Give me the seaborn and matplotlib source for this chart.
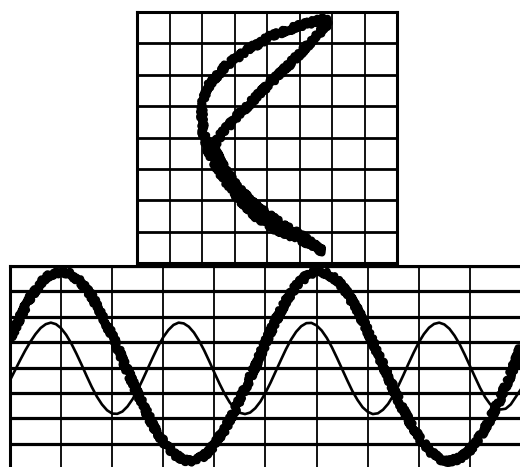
import numpy as np
import pandas as pd
import seaborn as sns
import matplotlib.pyplot as plt

# ------------------------------------------------------------
# Data (grid divisions)
# ------------------------------------------------------------
# X-Y mode trace (top screen), 0..8 divisions each way, closed loop
liss_x = [5.80, 5.40, 4.91, 4.09, 3.38, 2.76, 2.25, 2.04, 1.99, 2.04, 2.19,
          2.45, 2.76, 3.17, 3.68, 4.30, 4.91, 5.53, 5.72, 5.11, 4.40, 3.68,
          3.07, 2.65, 2.34, 2.61, 3.07, 3.57, 4.09, 4.61, 5.11, 5.50, 5.85,
          5.80]
liss_y = [7.78, 7.68, 7.53, 7.21, 6.78, 6.31, 5.73, 5.19, 4.66, 4.14, 3.60,
          3.07, 2.55, 2.01, 1.47, 1.05, 0.80, 0.52, 0.36, 0.84, 1.27, 1.79,
          2.43, 3.07, 3.70, 4.14, 4.66, 5.19, 5.73, 6.25, 6.78, 7.22, 7.60,
          7.78]

# time base trace (bottom screen), 10 divisions wide, -4..4 tall
t_slow = [i / 5 for i in range(51)]
v_slow = [1.15, 2.00, 2.78, 3.34, 3.67, 3.79, 3.67, 3.34, 2.80, 2.09,
          1.25, 0.34, -0.59, -1.48, -2.27, -2.92, -3.39, -3.65, -3.67, -3.47,
          -3.05, -2.44, -1.68, -0.81, 0.05, 0.98, 1.85, 2.63, 3.22, 3.61,
          3.80, 3.72, 3.44, 2.94, 2.26, 1.45, 0.57, -0.36, -1.26, -2.07,
          -2.75, -3.26, -3.59, -3.69, -3.57, -3.24, -2.71, -2.02, -1.20, -0.25,
          0.80]

t_fast = [i / 10 for i in range(101)]
v_fast = [-0.50, -0.10, 0.30, 0.68, 1.02, 1.32, 1.56, 1.71, 1.77, 1.71,
          1.55, 1.29, 0.95, 0.55, 0.12, -0.33, -0.76, -1.14, -1.45, -1.68,
          -1.81, -1.82, -1.73, -1.53, -1.24, -0.88, -0.46, -0.02, 0.42, 0.84,
          1.20, 1.48, 1.68, 1.77, 1.74, 1.61, 1.38, 1.06, 0.68, 0.25,
          -0.20, -0.63, -1.03, -1.37, -1.62, -1.78, -1.83, -1.77, -1.60, -1.34,
          -0.99, -0.59, -0.15, 0.29, 0.72, 1.10, 1.41, 1.63, 1.75, 1.76,
          1.66, 1.46, 1.17, 0.80, 0.38, -0.06, -0.50, -0.92, -1.27, -1.56,
          -1.74, -1.83, -1.80, -1.66, -1.43, -1.10, -0.72, -0.29, 0.16, 0.59,
          0.99, 1.32, 1.57, 1.72, 1.77, 1.70, 1.53, 1.26, 0.92, 0.51,
          0.07, -0.37, -0.80, -1.17, -1.45, -1.58, -1.65, -1.62, -1.45, -1.15,
          -0.85]

df_liss = pd.DataFrame({"x": liss_x, "y": liss_y})
df_slow = pd.DataFrame({"t": t_slow, "v": v_slow})
df_fast = pd.DataFrame({"t": t_fast, "v": v_fast})

sns.set_style("white")
fig = plt.figure(figsize=(5.2, 4.67), dpi=100)


def scope_grid(ax, nx, ny, lw_v, lw_h):
    ax.set_xticks(range(nx + 1))
    ax.set_yticks(ny)
    ax.tick_params(length=0, labelbottom=False, labelleft=False)
    ax.xaxis.grid(True, color="black", lw=lw_v)
    ax.yaxis.grid(True, color="black", lw=lw_h)
    ax.set_axisbelow(True)
    for s in ax.spines.values():
        s.set_color("black")
        s.set_linewidth(2.2)
    ax.set_xlabel("")
    ax.set_ylabel("")


def noisy(line):
    # rough phosphor look of the trace
    line.set_sketch_params(scale=2.6, length=3, randomness=5)
    line.set_solid_joinstyle("round")
    line.set_solid_capstyle("round")


# ---- bottom screen: two sine traces
ax2 = fig.add_axes([0.0192, -0.0047, 1.0023, 0.4351])
sns.lineplot(data=df_fast, x="t", y="v", ax=ax2, color="black", lw=1.9)
sns.lineplot(data=df_slow, x="t", y="v", ax=ax2, color="black", lw=5.2)
noisy(ax2.lines[-1])
ax2.set_xlim(0, 10.2)
ax2.set_ylim(-4, 4)
scope_grid(ax2, 10, range(-4, 5), 1.3, 2.3)

# ---- top screen: X-Y figure
ax1 = fig.add_axes([0.2635, 0.4368, 0.5, 0.5375])
sns.lineplot(data=df_liss, x="x", y="y", ax=ax1, color="black", lw=5.2,
             sort=False, estimator=None)
noisy(ax1.lines[-1])
ax1.set_xlim(0, 8)
ax1.set_ylim(0, 8)
scope_grid(ax1, 8, range(0, 9), 1.3, 2.0)

fig.savefig("out.png", dpi=100)
